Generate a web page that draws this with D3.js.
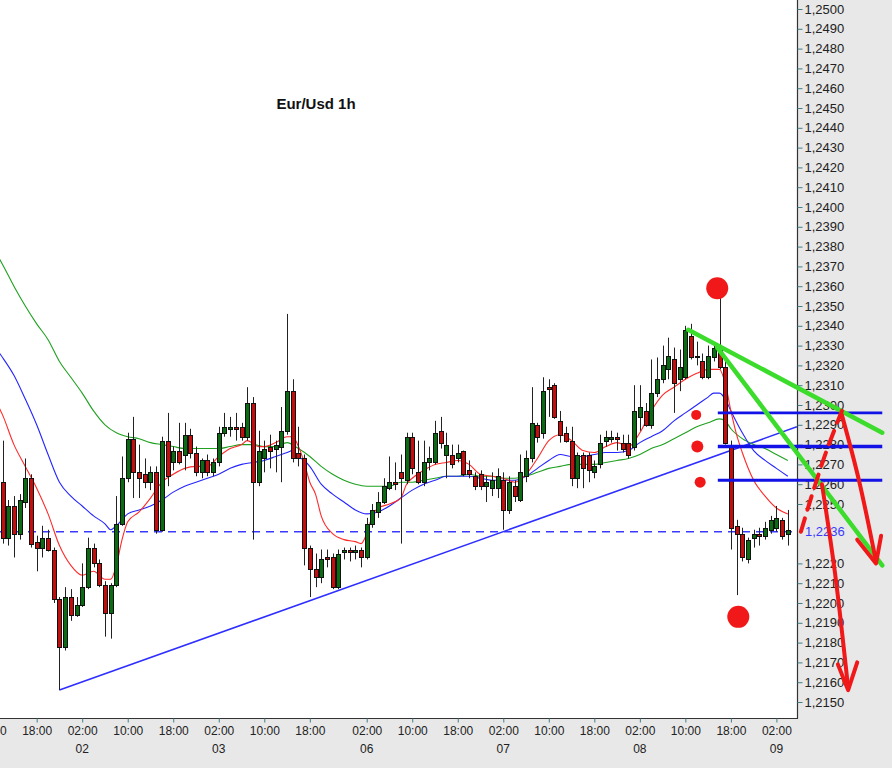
<!DOCTYPE html>
<html><head><meta charset="utf-8">
<script src="https://cdn.jsdelivr.net/npm/d3@7"></script>
<style>html,body{margin:0;padding:0;background:#e8e8e8;}svg{display:block;}</style>
</head><body>
<svg id="c" width="892" height="768"></svg>
<script>
// ---------- DATA ----------
const chartTitle = "Eur/Usd 1h";
// hourly candles, index = bar number, [open, high, low, close]
const ohlc = [
[1.2261,1.2282,1.2230,1.2233],[1.2233,1.2252,1.2229,1.2249],[1.2249,1.2254,1.2223,1.2235],[1.2235,1.2255,1.2232,1.2252],
[1.2251,1.2273,1.2248,1.2263],[1.2263,1.2265,1.2228,1.2230],[1.2231,1.2234,1.2216,1.2228],[1.2228,1.2239,1.2223,1.2233],
[1.2233,1.2237,1.2226,1.2227],[1.2227,1.2228,1.2200,1.2202],[1.2202,1.2203,1.2156,1.2178],[1.2178,1.2208,1.2176,1.2203],
[1.2203,1.2207,1.2191,1.2194],[1.2194,1.2203,1.2193,1.2199],[1.2199,1.2220,1.2198,1.2208],[1.2208,1.2233,1.2207,1.2228],
[1.2228,1.2230,1.2218,1.2220],[1.2220,1.2222,1.2208,1.2209],[1.2209,1.2211,1.2183,1.2195],[1.2195,1.2210,1.2182,1.2209],
[1.2209,1.2254,1.2208,1.2240],[1.2240,1.2274,1.2239,1.2263],[1.2263,1.2286,1.2261,1.2283],[1.2283,1.2294,1.2253,1.2266],
[1.2266,1.2280,1.2253,1.2263],[1.2265,1.2273,1.2258,1.2261],[1.2261,1.2269,1.2257,1.2266],[1.2266,1.2269,1.2235,1.2237],
[1.2237,1.2284,1.2236,1.2282],[1.2282,1.2296,1.2259,1.2264],[1.2271,1.2279,1.2267,1.2277],[1.2277,1.2291,1.2270,1.2271],
[1.2275,1.2291,1.2267,1.2285],[1.2285,1.2288,1.2273,1.2276],[1.2276,1.2279,1.2264,1.2266],[1.2266,1.2273,1.2263,1.2272],
[1.2272,1.2275,1.2264,1.2266],[1.2266,1.2273,1.2264,1.2271],[1.2271,1.2289,1.2269,1.2286],[1.2286,1.2296,1.2284,1.2289],
[1.2288,1.2294,1.2284,1.2289],[1.2289,1.2296,1.2282,1.2288],[1.2289,1.2291,1.2282,1.2284],[1.2284,1.2309,1.2282,1.2301],
[1.2301,1.2304,1.2232,1.2261],[1.2261,1.2287,1.2259,1.2277],[1.2273,1.2282,1.2266,1.2278],[1.2279,1.2285,1.2268,1.2277],
[1.2278,1.2282,1.2266,1.2280],[1.2279,1.2299,1.2261,1.2287],[1.2287,1.2346,1.2285,1.2307],[1.2307,1.2313,1.2271,1.2273],
[1.2276,1.2289,1.2269,1.2273],[1.2273,1.2275,1.2219,1.2228],[1.2228,1.2229,1.2203,1.2217],[1.2217,1.2225,1.2208,1.2213],
[1.2213,1.2227,1.2210,1.2222],[1.2223,1.2227,1.2218,1.2222],[1.2223,1.2225,1.2207,1.2208],[1.2208,1.2227,1.2207,1.2225],
[1.2226,1.2228,1.2222,1.2227],[1.2227,1.2228,1.2221,1.2226],[1.2226,1.2229,1.2222,1.2227],[1.2227,1.2228,1.2218,1.2223],
[1.2223,1.2243,1.2222,1.2240],[1.2240,1.2250,1.2238,1.2247],[1.2246,1.2256,1.2243,1.2251],[1.2251,1.2263,1.2250,1.2259],
[1.2258,1.2274,1.2257,1.2261],[1.2261,1.2271,1.2257,1.2260],[1.2266,1.2275,1.2230,1.2263],[1.2262,1.2286,1.2260,1.2284],
[1.2284,1.2286,1.2265,1.2268],[1.2266,1.2282,1.2260,1.2261],[1.2261,1.2282,1.2259,1.2271],[1.2271,1.2279,1.2267,1.2273],
[1.2271,1.2292,1.2270,1.2286],[1.2287,1.2294,1.2278,1.2281],[1.2275,1.2286,1.2263,1.2280],[1.2275,1.2280,1.2268,1.2270],
[1.2273,1.2280,1.2271,1.2276],[1.2277,1.2277,1.2264,1.2265],[1.2267,1.2272,1.2263,1.2265],[1.2264,1.2266,1.2257,1.2259],
[1.2265,1.2267,1.2257,1.2259],[1.2259,1.2264,1.2251,1.2261],[1.2258,1.2266,1.2254,1.2262],[1.2258,1.2268,1.2253,1.2264],
[1.2262,1.2266,1.2237,1.2247],[1.2247,1.2264,1.2245,1.2261],[1.2259,1.2262,1.2251,1.2254],[1.2252,1.2275,1.2251,1.2266],
[1.2264,1.2277,1.2261,1.2273],[1.2273,1.2309,1.2271,1.2291],[1.2290,1.2291,1.2281,1.2284],[1.2286,1.2314,1.2283,1.2307],
[1.2309,1.2313,1.2294,1.2308],[1.2310,1.2311,1.2293,1.2294],[1.2292,1.2297,1.2281,1.2285],[1.2286,1.2289,1.2281,1.2282],
[1.2282,1.2289,1.2259,1.2263],[1.2263,1.2276,1.2258,1.2275],[1.2275,1.2276,1.2258,1.2268],[1.2275,1.2276,1.2261,1.2267],
[1.2266,1.2272,1.2263,1.2269],[1.2270,1.2285,1.2268,1.2281],[1.2282,1.2287,1.2279,1.2284],[1.2283,1.2287,1.2281,1.2284],
[1.2284,1.2286,1.2277,1.2283],[1.2281,1.2285,1.2276,1.2278],[1.2281,1.2285,1.2273,1.2275],[1.2279,1.2310,1.2277,1.2297],
[1.2294,1.2310,1.2287,1.2299],[1.2297,1.2301,1.2289,1.2290],[1.2290,1.2323,1.2288,1.2306],[1.2306,1.2324,1.2304,1.2313],
[1.2313,1.2330,1.2311,1.2320],[1.2318,1.2334,1.2313,1.2325],[1.2323,1.2329,1.2296,1.2311],[1.2313,1.2328,1.2307,1.2319],
[1.2314,1.2340,1.2313,1.2338],[1.2335,1.2341,1.2323,1.2324],[1.2325,1.2332,1.2320,1.2324],[1.2322,1.2326,1.2313,1.2314],
[1.2314,1.2330,1.2313,1.2325],[1.2324,1.2331,1.2322,1.2329],[1.2328,1.2354,1.2318,1.2319],[1.2319,1.2322,1.2280,1.2281],
[1.2279,1.2282,1.2227,1.2238],[1.2239,1.2242,1.2204,1.2235],[1.2235,1.2238,1.2221,1.2223],[1.2222,1.2233,1.2220,1.2232],
[1.2233,1.2237,1.2228,1.2235],[1.2235,1.2238,1.2229,1.2234],[1.2234,1.2241,1.2232,1.2238],[1.2237,1.2244,1.2235,1.2242],
[1.2238,1.2249,1.2236,1.2243],[1.2242,1.2243,1.2232,1.2234],[1.2235,1.2247,1.2229,1.2237]
];
// moving averages: [bar, value]
const maFast = [[-1,1.2301],[0,1.2295],[2,1.2280],[4,1.2269],[6,1.2258],[8,1.2245],[10,1.2229],[12,1.2219],[14,1.2214],[16,1.2216],[18,1.2212],[19,1.2212],[20,1.2219],[21,1.2232],[22,1.2241],[24,1.2246],[26,1.2253],[28,1.2261],[30,1.2265],[32,1.2268],[34,1.2269],[36,1.2269],[38,1.2274],[40,1.2278],[42,1.2280],[43,1.2282],[45,1.2279],[46,1.2279],[48,1.2281],[50,1.2284],[51,1.2284],[52,1.2279],[53,1.2271],[54,1.2261],[55,1.2255],[56,1.2244],[58,1.2235],[60,1.2232],[62,1.2231],[63,1.2230],[64,1.2235],[65,1.2244],[66,1.2248],[68,1.2250],[70,1.2253],[71,1.2260],[72,1.2263],[74,1.2267],[76,1.2270],[78,1.2271],[80,1.2272],[82,1.2270],[84,1.2265],[86,1.2264],[88,1.2263],[90,1.2261],[92,1.2265],[94,1.2273],[96,1.2282],[98,1.2285],[100,1.2282],[102,1.2277],[104,1.2276],[106,1.2279],[108,1.2281],[110,1.2279],[112,1.2286],[114,1.2297],[116,1.2305],[118,1.2309],[120,1.2313],[122,1.2316],[124,1.2318],[126,1.2318],[127,1.2311],[128,1.2297],[129,1.2285],[130,1.2276],[132,1.2262],[134,1.2254],[136,1.2248],[138,1.2245]];
const maMid = [[-1,1.2328],[0,1.2324],[2,1.2315],[4,1.2303],[6,1.2290],[8,1.2275],[10,1.2261],[12,1.2254],[14,1.2249],[16,1.2244],[18,1.2240],[19,1.2237],[20,1.2239],[22,1.2245],[24,1.2247],[26,1.2249],[28,1.2252],[30,1.2256],[32,1.2259],[34,1.2261],[36,1.2263],[38,1.2265],[40,1.2268],[42,1.2270],[44,1.2271],[46,1.2272],[48,1.2274],[50,1.2276],[51,1.2277],[52,1.2274],[53,1.2272],[54,1.2269],[56,1.2260],[58,1.2255],[60,1.2251],[62,1.2247],[64,1.2245],[66,1.2246],[68,1.2249],[70,1.2253],[72,1.2257],[74,1.2260],[76,1.2262],[78,1.2264],[80,1.2264],[82,1.2264],[84,1.2263],[86,1.2262],[88,1.2262],[90,1.2262],[92,1.2264],[94,1.2268],[96,1.2272],[98,1.2275],[100,1.2274],[102,1.2274],[104,1.2275],[106,1.2276],[108,1.2276],[110,1.2277],[112,1.2281],[114,1.2284],[116,1.2287],[118,1.2292],[120,1.2296],[122,1.2300],[124,1.2304],[125,1.2306],[126,1.2306],[127,1.2303],[128,1.2297],[130,1.2286],[132,1.2277],[134,1.2272],[136,1.2268],[138,1.2264]];
const maSlow = [[-1,1.2376],[0,1.2371],[2,1.2360],[4,1.2350],[6,1.2341],[8,1.2333],[10,1.2322],[12,1.2314],[14,1.2306],[16,1.2297],[18,1.2290],[20,1.2286],[22,1.2284],[24,1.2283],[26,1.2281],[28,1.2280],[30,1.2279],[32,1.2278],[34,1.2278],[36,1.2278],[38,1.2278],[40,1.2279],[42,1.2280],[44,1.2280],[46,1.2279],[48,1.2279],[50,1.2281],[52,1.2278],[54,1.2274],[56,1.2269],[58,1.2265],[60,1.2262],[62,1.2260],[64,1.2259],[66,1.2259],[68,1.2259],[70,1.2261],[72,1.2261],[74,1.2262],[76,1.2263],[78,1.2264],[80,1.2264],[82,1.2265],[84,1.2264],[86,1.2264],[88,1.2263],[90,1.2263],[92,1.2264],[94,1.2266],[96,1.2268],[98,1.2269],[100,1.2270],[102,1.2270],[104,1.2270],[106,1.2271],[108,1.2272],[110,1.2273],[112,1.2275],[114,1.2278],[116,1.2280],[118,1.2283],[120,1.2286],[122,1.2289],[124,1.2291],[126,1.2293],[127,1.2292],[128,1.2288],[130,1.2283],[132,1.2280],[134,1.2278],[136,1.2275],[138,1.2272]];
// price axis
const yTickValues = [1.2150,1.2160,1.2170,1.2180,1.2190,1.2200,1.2210,1.2220,1.2250,1.2260,1.2270,1.2280,1.2290,1.2300,1.2310,1.2320,1.2330,1.2340,1.2350,1.2360,1.2370,1.2380,1.2390,1.2400,1.2410,1.2420,1.2430,1.2440,1.2450,1.2460,1.2470,1.2480,1.2490,1.2500];
const markedLevel = 1.2236;
// time axis
const timeTickBars = [-2,6,14,22,30,38,46,54,64,72,80,88,96,104,112,120,128,136];
const timeTickLabels = ["10:00","18:00","02:00","10:00","18:00","02:00","10:00","18:00","02:00","10:00","18:00","02:00","10:00","18:00","02:00","10:00","18:00","02:00"];
const dayTickBars = [14,38,64,88,112,136];
const dayTickLabels = ["02","03","06","07","08","09"];
// drawn annotations: [bar, price]
const supportLine = [[10,1.2156],[139.6,1.2289]];
const levelLines = [1.2296,1.2279,1.2262];
const levelStartBar = 125.7, levelEndBar = 154.6;
const greenLineA = [[120.5,1.2338],[154.6,1.2286]];
const greenLineB = [[125.6,1.2329],[154.6,1.2219]];
const redDots = [[125.6,1.2359,11],[121.9,1.2295,5],[122.1,1.2279,6],[122.6,1.2261,5.5],[129.3,1.2193,11]];
const redDashPath = [[140.3,1.2236],[142.3,1.2255],[144.7,1.2276],[147.5,1.2297]];
const redArrow1 = [[147.5,1.2295],[150.5,1.2262],[153.5,1.2221]];
const redArrow1Head = [[150.2,1.2232],[153.5,1.2220],[154.4,1.2234]];
const redArrow2 = [[144.0,1.2260],[146.3,1.2215],[148.6,1.2157]];
const redArrow2Head = [[146.8,1.2169],[148.6,1.2156],[150.2,1.2170]];

// ---------- DRAW ----------
const W = 892, H = 768, plotR = 797, plotB = 718;
const svg = d3.select("#c");
const font = "'Liberation Sans', Arial, sans-serif";
svg.append("rect").attr("width", W).attr("height", H).attr("fill", "#e8e8e8");
svg.append("rect").attr("width", plotR).attr("height", plotB).attr("fill", "#ffffff");
svg.append("defs").append("clipPath").attr("id", "pc")
  .append("rect").attr("width", plotR).attr("height", plotB);

const x = d3.scaleLinear().domain([0, 138]).range([2.54, 787.8]);
const y = d3.scaleLinear().domain([1.2150, 1.2500]).range([702, 9]);

const plot = svg.append("g").attr("clip-path", "url(#pc)");

// dashed level
plot.append("line").attr("x1", 0).attr("x2", plotR)
  .attr("y1", y(markedLevel)).attr("y2", y(markedLevel))
  .attr("stroke", "#3a3aff").attr("stroke-width", 1.5).attr("stroke-dasharray", "8,6");

// support trendline
plot.append("line")
  .attr("x1", x(supportLine[0][0])).attr("y1", y(supportLine[0][1]))
  .attr("x2", x(supportLine[1][0])).attr("y2", y(supportLine[1][1]))
  .attr("stroke", "#2e2eff").attr("stroke-width", 1.6);

// moving averages
const maLine = d3.line().x(d => x(d[0])).y(d => y(d[1])).curve(d3.curveMonotoneX);
[[maSlow, "#1fa01f"], [maMid, "#2424ff"], [maFast, "#ff2a2a"]].forEach(([data, col]) => {
  plot.append("path").attr("d", maLine(data)).attr("fill", "none")
    .attr("stroke", col).attr("stroke-width", 1.1);
});

// candles
const cg = plot.append("g");
ohlc.forEach((d, i) => {
  const [o, h, l, c] = d;
  const cx = Math.round(x(i));
  cg.append("line").attr("x1", cx + 0.5).attr("x2", cx + 0.5)
    .attr("y1", y(h)).attr("y2", y(l)).attr("stroke", "#222").attr("stroke-width", 1);
  const top = Math.round(y(Math.max(o, c))) + 0.5;
  const bot = Math.round(y(Math.min(o, c))) + 0.5;
  cg.append("rect").attr("x", cx - 1.5).attr("width", 4)
    .attr("y", top).attr("height", Math.max(1, bot - top))
    .attr("fill", c >= o ? "#0b6b12" : "#c40d0d")
    .attr("stroke", "#111").attr("stroke-width", 1);
});

// axes frame
svg.append("line").attr("x1", plotR + 0.5).attr("x2", plotR + 0.5).attr("y1", 0).attr("y2", plotB + 1)
  .attr("stroke", "#333").attr("stroke-width", 1.2);
svg.append("line").attr("x1", 0).attr("x2", plotR + 1).attr("y1", plotB + 0.5).attr("y2", plotB + 0.5)
  .attr("stroke", "#333").attr("stroke-width", 1.2);

// y axis
const yAxis = d3.axisRight(y).tickValues(yTickValues).tickSize(5).tickPadding(2)
  .tickFormat(d => d.toFixed(4).replace(".", ","));
const ya = svg.append("g").attr("transform", `translate(${plotR + 0.5},0)`).call(yAxis);
ya.select(".domain").remove();
ya.selectAll("line").attr("stroke", "#3f7f86");
ya.selectAll("text").attr("font-family", font).attr("font-size", 13).attr("fill", "#222");
svg.append("text").attr("x", plotR + 8).attr("y", y(markedLevel)).attr("dy", "0.35em")
  .attr("font-family", font).attr("font-size", 13).attr("fill", "#3a3aff")
  .text(markedLevel.toFixed(4).replace(".", ","));

// x axis
const xa = svg.append("g").attr("transform", `translate(0,${plotB + 0.5})`)
  .call(d3.axisBottom(x).tickValues(timeTickBars).tickSize(4).tickPadding(4)
    .tickFormat((d, i) => timeTickLabels[i]));
xa.select(".domain").remove();
xa.selectAll("line").attr("stroke", "#3f7f86");
xa.selectAll("text").attr("font-family", font).attr("font-size", 12).attr("fill", "#222");
svg.append("g").selectAll("text").data(dayTickBars).join("text")
  .attr("x", d => x(d)).attr("y", 753).attr("text-anchor", "middle")
  .attr("font-family", font).attr("font-size", 12).attr("fill", "#222")
  .text((d, i) => dayTickLabels[i]);

// title
svg.append("text").attr("x", 316).attr("y", 109).attr("text-anchor", "middle")
  .attr("font-family", font).attr("font-weight", "bold").attr("font-size", 15).attr("fill", "#111")
  .text(chartTitle);

// annotations
const ann = svg.append("g");
levelLines.forEach((v, i) => {
  ann.append("line").attr("x1", x(levelStartBar)).attr("x2", x(levelEndBar))
    .attr("y1", y(v)).attr("y2", y(v)).attr("stroke", "#1212e6").attr("stroke-width", i === 1 ? 3.5 : 2.8);
});
const pl = d3.line().x(d => x(d[0])).y(d => y(d[1]));
[greenLineA, greenLineB].forEach(g => {
  ann.append("path").attr("d", pl(g)).attr("stroke", "#3cdc2c").attr("stroke-width", 4.5)
    .attr("fill", "none").attr("stroke-linecap", "round");
});
ann.selectAll("circle").data(redDots).join("circle")
  .attr("cx", d => x(d[0])).attr("cy", d => y(d[1])).attr("r", d => d[2]).attr("fill", "#f01818");
const cl = d3.line().x(d => x(d[0])).y(d => y(d[1])).curve(d3.curveCatmullRom);
ann.append("path").attr("d", cl(redDashPath)).attr("stroke", "#f01818").attr("stroke-width", 4)
  .attr("fill", "none").attr("stroke-dasharray", "14,9").attr("stroke-linecap", "round");
[redArrow1, redArrow1Head, redArrow2, redArrow2Head].forEach((a, i) => {
  ann.append("path").attr("d", (i % 2 ? pl : cl)(a)).attr("stroke", "#f01818").attr("stroke-width", 4)
    .attr("fill", "none").attr("stroke-linecap", "round").attr("stroke-linejoin", "round");
});
</script>
</body></html>
